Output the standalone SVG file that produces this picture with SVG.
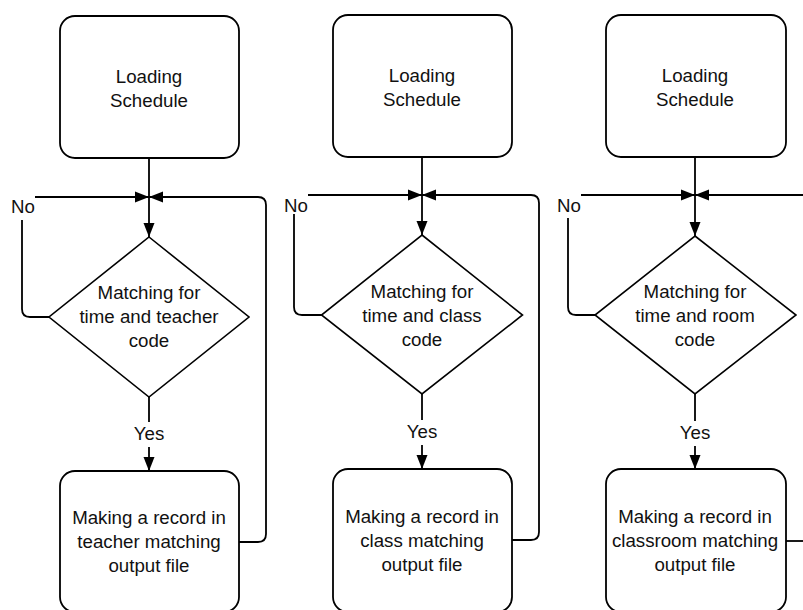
<svg xmlns="http://www.w3.org/2000/svg" width="803" height="610" viewBox="0 0 803 610">
  <defs>
    <marker id="arrow" markerUnits="userSpaceOnUse" markerWidth="14" markerHeight="12" viewBox="0 0 14 12" refX="14" refY="6" orient="auto">
      <path d="M0,0.5 L14,6 L0,11.5 Z" fill="#000"/>
    </marker>
    <style>
      .box { fill: #fff; stroke: #000; stroke-width: 1.8; }
      .dec { fill: #fff; stroke: #000; stroke-width: 1.6; stroke-linejoin: miter; }
      .wire { fill: none; stroke: #000; stroke-width: 1.8; }
      .arr { marker-end: url(#arrow); }
      text { font-family: "Liberation Sans", Arial, sans-serif; font-size: 18.7px; fill: #111; }
      .c { text-anchor: middle; }
    </style>
  </defs>

  <!-- connectors -->
  <g id="connectors">
    <!-- flow 1: teacher -->
    <path class="wire arr" d="M149 158 V237"/>
    <path class="wire arr" d="M35 197 H149"/>
    <path class="wire" d="M49 317 H30 Q22 317 22 309 V220"/>
    <path class="wire" d="M149 397 V422"/>
    <path class="wire arr" d="M149 447 V471"/>
    <path class="wire arr" d="M239 542 H258 Q266 542 266 534 V205 Q266 197 258 197 H149"/>

    <!-- flow 2: class -->
    <path class="wire arr" d="M422 157 V235"/>
    <path class="wire arr" d="M308 195 H422"/>
    <path class="wire" d="M322 315 H302 Q294 315 294 307 V214"/>
    <path class="wire" d="M422 394 V420"/>
    <path class="wire arr" d="M422 445 V469"/>
    <path class="wire arr" d="M512 540 H531 Q539 540 539 532 V203 Q539 195 531 195 H422"/>

    <!-- flow 3: room -->
    <path class="wire arr" d="M695 157 V236"/>
    <path class="wire arr" d="M581 195 H695"/>
    <path class="wire" d="M595 315 H576 Q568 315 568 307 V218"/>
    <path class="wire" d="M695 394 V421"/>
    <path class="wire arr" d="M695 446 V469"/>
    <path class="wire arr" d="M803 195 H695"/>
    <path class="wire" d="M786 541 H803"/>
  </g>

  <!-- labels on connectors -->
  <g id="labels">
    <text x="11" y="213">No</text>
    <text x="284" y="212">No</text>
    <text x="557" y="212">No</text>
    <text class="c" x="149" y="440">Yes</text>
    <text class="c" x="422" y="438">Yes</text>
    <text class="c" x="695" y="439">Yes</text>
  </g>

  <!-- flow 1 nodes -->
  <g id="load1">
    <rect class="box" x="60" y="16" width="179" height="142" rx="15"/>
    <text class="c" x="149" y="83">Loading</text>
    <text class="c" x="149" y="107">Schedule</text>
  </g>
  <g id="match1">
    <polygon class="dec" points="149,237 249,317 149,397 49,317"/>
    <text class="c" x="149" y="299">Matching for</text>
    <text class="c" x="149" y="323">time and teacher</text>
    <text class="c" x="149" y="347">code</text>
  </g>
  <g id="record1">
    <rect class="box" x="60" y="471" width="179" height="141" rx="15"/>
    <text class="c" x="149" y="524">Making a record in</text>
    <text class="c" x="149" y="548">teacher matching</text>
    <text class="c" x="149" y="572">output file</text>
  </g>

  <!-- flow 2 nodes -->
  <g id="load2">
    <rect class="box" x="333" y="15" width="179" height="142" rx="15"/>
    <text class="c" x="422" y="82">Loading</text>
    <text class="c" x="422" y="106">Schedule</text>
  </g>
  <g id="match2">
    <polygon class="dec" points="422,235 522.5,315 422,394 321.5,315"/>
    <text class="c" x="422" y="298">Matching for</text>
    <text class="c" x="422" y="322">time and class</text>
    <text class="c" x="422" y="346">code</text>
  </g>
  <g id="record2">
    <rect class="box" x="333" y="469" width="179" height="143" rx="15"/>
    <text class="c" x="422" y="523">Making a record in</text>
    <text class="c" x="422" y="547">class matching</text>
    <text class="c" x="422" y="571">output file</text>
  </g>

  <!-- flow 3 nodes -->
  <g id="load3">
    <rect class="box" x="606" y="15" width="180" height="142" rx="15"/>
    <text class="c" x="695" y="82">Loading</text>
    <text class="c" x="695" y="106">Schedule</text>
  </g>
  <g id="match3">
    <polygon class="dec" points="695,236 796,315 695,394 595,315"/>
    <text class="c" x="695" y="298">Matching for</text>
    <text class="c" x="695" y="322">time and room</text>
    <text class="c" x="695" y="346">code</text>
  </g>
  <g id="record3">
    <rect class="box" x="606" y="469" width="180" height="143" rx="15"/>
    <text class="c" x="695" y="523">Making a record in</text>
    <text class="c" x="695" y="547">classroom matching</text>
    <text class="c" x="695" y="571">output file</text>
  </g>
</svg>
